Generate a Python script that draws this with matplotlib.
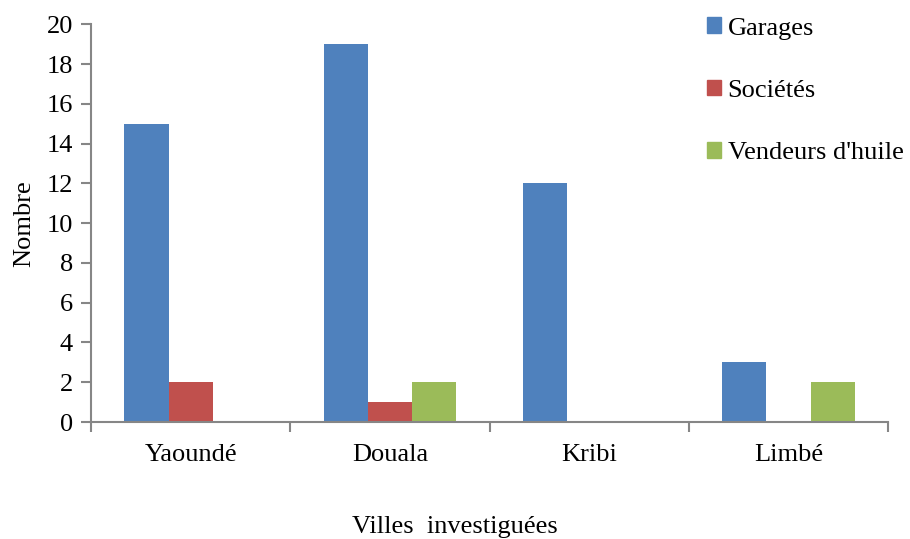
import numpy as np
import matplotlib.pyplot as plt
from matplotlib.patches import Patch

villes = ['Yaoundé', 'Douala', 'Kribi', 'Limbé']
garages = [15, 19, 12, 3]
societes = [2, 1, 0, 0]
vendeurs = [0, 2, 0, 2]
series = ['Garages', 'Sociétés', "Vendeurs d'huile"]
colors = ['#4F81BD', '#C0504D', '#9BBB59']

plt.rcParams['font.family'] = ['Liberation Serif', 'DejaVu Serif']
plt.rcParams['font.size'] = 19

fig = plt.figure(figsize=(9.1, 5.39), dpi=100)
ax = fig.add_axes([0.1, 0.217, 0.876, 0.738])

x = np.arange(len(villes))
w = 0.222
for i, (vals, c) in enumerate(zip([garages, societes, vendeurs], colors)):
    ax.bar(x + (i - 1) * w, vals, width=w, color=c, zorder=2)

ax.set_xlim(-0.5, 3.5)
ax.set_ylim(0, 20)
ax.set_yticks(range(0, 21, 2))

gray = '#868686'
for s in ['top', 'right']:
    ax.spines[s].set_visible(False)
for s in ['left', 'bottom']:
    ax.spines[s].set_color(gray)
    ax.spines[s].set_linewidth(1.5)

# category ticks sit on the boundaries between groups
ax.set_xticks(np.arange(-0.5, 4, 1))
ax.set_xticklabels([])
ax.set_xticks(x, minor=True)
ax.set_xticklabels(villes, minor=True)
ax.tick_params(axis='x', which='major', length=7, color=gray, width=1.5)
ax.tick_params(axis='x', which='minor', length=0, pad=16)
ax.tick_params(axis='y', length=7, color=gray, width=1.5, pad=6)

ax.set_ylabel('Nombre', labelpad=8)
fig.text(0.5, 0.022, 'Villes  investiguées', ha='center', va='center')

handles = [Patch(color=c, label=l) for c, l in zip(colors, series)]
fig.legend(handles=handles, loc='upper left', bbox_to_anchor=(0.759, 0.997),
           frameon=False, labelspacing=1.51, handlelength=0.55, handleheight=0.55,
           handletextpad=0.25, borderaxespad=0.2)

fig.savefig('out.png', dpi=100)
